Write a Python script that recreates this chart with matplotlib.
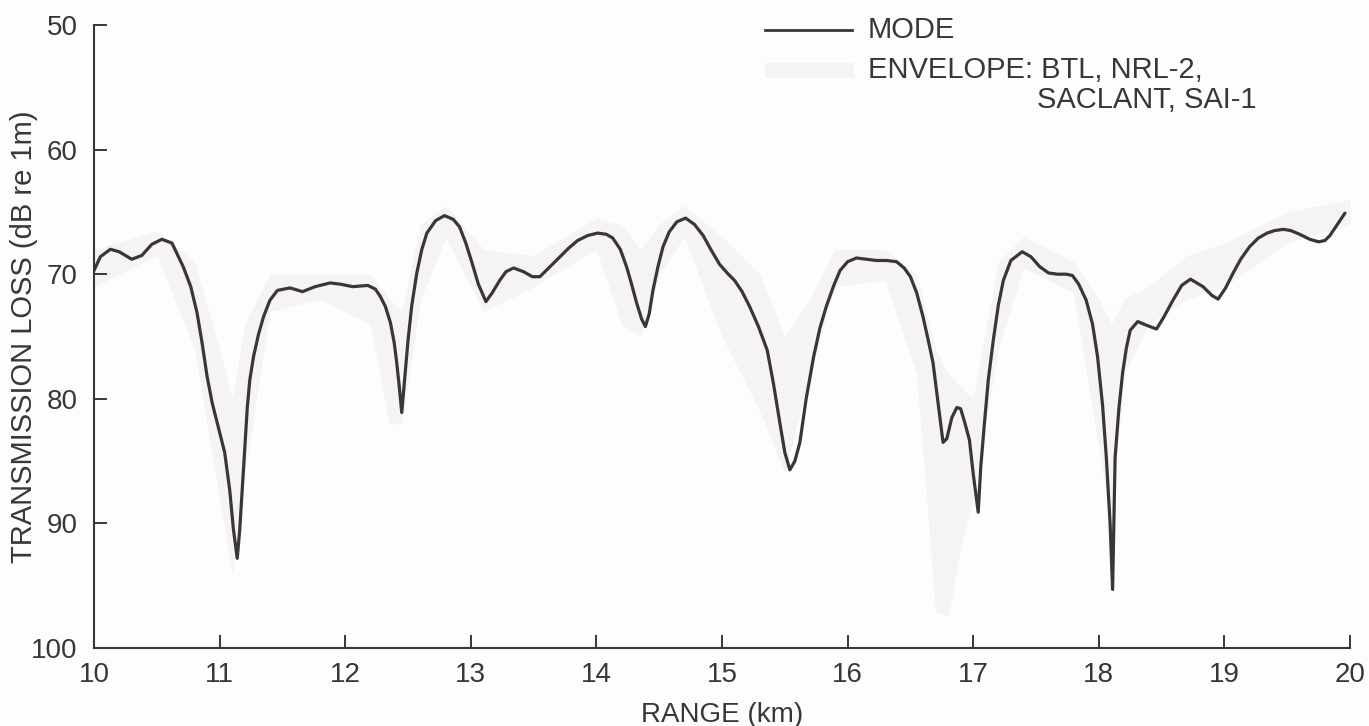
import matplotlib
matplotlib.use("Agg")
import matplotlib.pyplot as plt
from matplotlib.patches import Rectangle

plt.rcParams['font.family'] = ['Liberation Sans', 'DejaVu Sans']

# ---- data ----
mode_range = [10.00, 10.05, 10.13, 10.20, 10.30, 10.38, 10.46, 10.54, 10.62, 10.71,
              10.77, 10.82, 10.86, 10.90, 10.94, 10.98, 11.04, 11.08, 11.11, 11.14,
              11.16, 11.18, 11.20, 11.22, 11.24, 11.27, 11.31, 11.35, 11.40, 11.46,
              11.56, 11.66, 11.76, 11.88, 11.96, 12.06, 12.18, 12.24, 12.28, 12.32,
              12.36, 12.39, 12.41, 12.43, 12.45, 12.47, 12.50, 12.53, 12.57, 12.61,
              12.65, 12.72, 12.79, 12.86, 12.91, 12.96, 13.01, 13.06, 13.12, 13.17,
              13.23, 13.28, 13.34, 13.42, 13.49, 13.55, 13.62, 13.71, 13.78, 13.85,
              13.93, 14.01, 14.08, 14.13, 14.19, 14.24, 14.28, 14.32, 14.36, 14.39,
              14.42, 14.45, 14.49, 14.53, 14.58, 14.64, 14.71, 14.78, 14.85, 14.91,
              14.98, 15.05, 15.10, 15.16, 15.22, 15.29, 15.36, 15.41, 15.46, 15.50,
              15.54, 15.58, 15.62, 15.67, 15.73, 15.78, 15.83, 15.89, 15.94, 16.00,
              16.07, 16.15, 16.23, 16.31, 16.39, 16.45, 16.50, 16.55, 16.60, 16.64,
              16.68, 16.71, 16.74, 16.76, 16.79, 16.83, 16.87, 16.90, 16.93, 16.97,
              17.00, 17.04, 17.06, 17.09, 17.12, 17.16, 17.20, 17.24, 17.30, 17.39,
              17.46, 17.53, 17.60, 17.67, 17.74, 17.79, 17.84, 17.90, 17.95, 17.99,
              18.03, 18.06, 18.09, 18.11, 18.12, 18.13, 18.16, 18.19, 18.22, 18.25,
              18.31, 18.38, 18.46, 18.52, 18.59, 18.66, 18.73, 18.83, 18.90, 18.95,
              19.01, 19.07, 19.13, 19.20, 19.27, 19.34, 19.40, 19.47, 19.53, 19.60,
              19.68, 19.75, 19.80, 19.84, 19.90, 19.96]
mode_loss = [69.7, 68.6, 68.0, 68.2, 68.8, 68.5, 67.6, 67.2, 67.5, 69.4,
             71.0, 73.1, 75.5, 78.2, 80.3, 81.9, 84.3, 87.3, 90.5, 92.8,
             90.5, 87.3, 84.0, 80.7, 78.5, 76.6, 74.8, 73.4, 72.1, 71.3,
             71.1, 71.4, 71.0, 70.7, 70.8, 71.0, 70.9, 71.2, 71.8, 72.6,
             73.9, 75.5, 77.1, 79.0, 81.1, 78.8, 75.3, 72.5, 69.9, 68.0,
             66.7, 65.7, 65.3, 65.6, 66.2, 67.5, 69.1, 70.8, 72.2, 71.5,
             70.5, 69.8, 69.5, 69.8, 70.2, 70.2, 69.5, 68.6, 67.9, 67.3,
             66.9, 66.7, 66.8, 67.1, 68.0, 69.4, 70.8, 72.3, 73.6, 74.2,
             73.2, 71.3, 69.4, 67.8, 66.6, 65.8, 65.5, 66.0, 66.9, 68.0,
             69.2, 70.0, 70.5, 71.4, 72.6, 74.2, 76.1, 78.8, 81.9, 84.3,
             85.7, 85.0, 83.5, 80.0, 76.6, 74.3, 72.6, 70.9, 69.7, 69.0,
             68.7, 68.8, 68.9, 68.9, 69.0, 69.5, 70.2, 71.5, 73.4, 75.2,
             77.1, 79.5, 81.9, 83.5, 83.2, 81.5, 80.7, 80.8, 81.8, 83.3,
             86.0, 89.1, 85.5, 81.9, 78.5, 75.3, 72.5, 70.5, 68.9, 68.2,
             68.6, 69.4, 69.9, 70.0, 70.0, 70.1, 70.8, 72.1, 74.0, 76.6,
             80.5, 84.7, 90.0, 95.3, 90.0, 84.7, 80.8, 77.9, 75.9, 74.5,
             73.8, 74.1, 74.4, 73.4, 72.1, 70.9, 70.4, 71.0, 71.7, 72.0,
             71.1, 69.9, 68.8, 67.8, 67.1, 66.7, 66.5, 66.4, 66.5, 66.8,
             67.2, 67.4, 67.3, 66.9, 66.0, 65.1]

env_range = [10.0, 10.5, 10.8, 11.0, 11.1, 11.2, 11.4, 11.8, 12.2, 12.35,
             12.45, 12.6, 12.8, 13.1, 13.5, 14.0, 14.2, 14.35, 14.5, 14.7,
             15.0, 15.3, 15.5, 15.7, 15.9, 16.3, 16.55, 16.7, 16.8, 16.9,
             17.0, 17.2, 17.4, 17.8, 18.0, 18.1, 18.2, 18.4, 18.7, 19.0,
             19.5, 20.0]
env_low = [68.0, 66.5, 69.0, 76.0, 80.0, 74.0, 70.0, 70.0, 70.0, 72.0,
           73.0, 66.0, 64.5, 68.0, 68.5, 65.5, 66.0, 68.0, 66.0, 64.5,
           67.0, 70.0, 75.0, 72.0, 68.0, 68.0, 70.0, 76.0, 78.0, 79.0,
           80.0, 69.0, 67.0, 69.0, 72.0, 74.0, 72.0, 71.0, 68.5, 67.5,
           65.0, 64.0]
env_high = [71.0, 68.5, 76.0, 88.0, 94.0, 86.0, 73.0, 72.0, 74.0, 82.0,
            82.0, 72.0, 67.0, 73.0, 71.0, 68.0, 74.0, 75.0, 70.0, 67.0,
            75.0, 81.0, 86.0, 78.0, 71.0, 70.5, 78.0, 97.0, 97.5, 92.0,
            88.0, 76.0, 69.5, 71.5, 84.0, 90.0, 78.0, 74.0, 72.0, 71.0,
            67.5, 66.0]

x_ticks = [10, 11, 12, 13, 14, 15, 16, 17, 18, 19, 20]
y_ticks = [50, 60, 70, 80, 90, 100]

ink = '#3b3636'
env_color = '#f5f4f2'

fig = plt.figure(figsize=(13.69, 7.26), dpi=100, facecolor='#fdfdfd')
ax = fig.add_axes([0.0687, 0.1074, 0.9174, 0.8582])
ax.set_facecolor('#fdfdfd')

ax.fill_between(env_range, env_low, env_high, color=env_color, linewidth=0, zorder=1)
ax.plot(mode_range, mode_loss, color=ink, linewidth=2.3, solid_joinstyle='round',
        solid_capstyle='round', zorder=3)

ax.set_xlim(10, 20)
ax.set_ylim(100, 50)
ax.set_xticks(x_ticks)
ax.set_yticks(y_ticks)
for s in ['top', 'right']:
    ax.spines[s].set_visible(False)
for s in ['left', 'bottom']:
    ax.spines[s].set_color(ink)
    ax.spines[s].set_linewidth(1.5)
ax.tick_params(axis='both', direction='in', length=9.5, width=1.4, color=ink,
               labelsize=20, labelcolor=ink)
ax.tick_params(axis='y', pad=12)
ax.tick_params(axis='x', pad=10)

ax.set_xlabel('RANGE (km)', fontsize=20, color=ink, labelpad=10)
ax.set_ylabel('TRANSMISSION LOSS (dB re 1m)', fontsize=21, color=ink)
ax.yaxis.set_label_coords(-0.045, 0.5)

# legend drawn by hand
ax.plot([0.534, 0.6035], [0.992, 0.992], transform=ax.transAxes, color=ink,
        linewidth=2.0, clip_on=False)
ax.add_patch(Rectangle((0.534, 0.915), 0.071, 0.024, transform=ax.transAxes,
                       color=env_color, linewidth=0, clip_on=False))
ax.text(0.616, 0.992, 'MODE', transform=ax.transAxes, fontsize=21, color=ink,
        ha='left', va='center')
ax.text(0.616, 0.928, 'ENVELOPE: BTL, NRL-2,', transform=ax.transAxes, fontsize=21,
        color=ink, ha='left', va='center')
ax.text(0.751, 0.880, 'SACLANT, SAI-1', transform=ax.transAxes, fontsize=21,
        color=ink, ha='left', va='center')

fig.savefig('out.png', dpi=100, facecolor=fig.get_facecolor())
